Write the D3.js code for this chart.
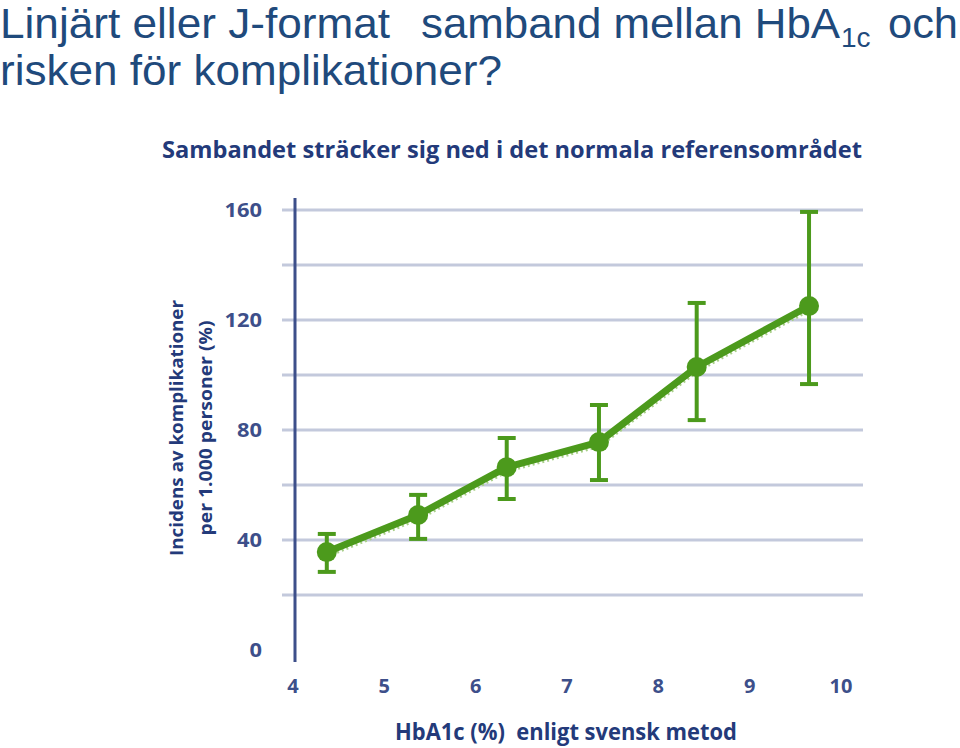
<!DOCTYPE html>
<html><head><meta charset="utf-8">
<script src="https://cdn.jsdelivr.net/npm/d3@7"></script>
<style>body{margin:0;background:#fff}svg{display:block}text{white-space:pre}</style>
</head><body>
<script>
const hba1c = [4.37, 5.37, 6.34, 7.35, 8.42, 9.65];
const incidence = [35.6, 49.1, 66.5, 75.6, 102.9, 125.1];
const errLow = [28.4, 40.4, 54.9, 61.8, 83.6, 96.7];
const errHigh = [42.2, 56.4, 77.1, 89.1, 126.2, 159.3];
const xTicks = [4, 5, 6, 7, 8, 9, 10];
const yTickLabels = [0, 40, 80, 120, 160];
const yGrid = [20, 40, 60, 80, 100, 120, 140, 160];

const W = 960, H = 748;
const svg = d3.select("body").append("svg").attr("width", W).attr("height", H);

const titleColor = "#1f4a7c";
const tf = "Liberation Sans, Arial, sans-serif";
svg.append("text").attr("x", 0).attr("y", 38)
  .attr("font-family", tf).attr("font-size", 42).attr("fill", titleColor)
  .attr("textLength", 390).attr("lengthAdjust", "spacingAndGlyphs")
  .text("Linjärt eller J-format");
svg.append("text").attr("x", 421).attr("y", 38)
  .attr("font-family", tf).attr("font-size", 42).attr("fill", titleColor)
  .attr("textLength", 419).attr("lengthAdjust", "spacingAndGlyphs")
  .text("samband mellan HbA");
svg.append("text").attr("x", 841).attr("y", 47)
  .attr("font-family", tf).attr("font-size", 28).attr("fill", titleColor)
  .text("1c");
svg.append("text").attr("x", 958).attr("y", 38).attr("text-anchor", "end")
  .attr("font-family", tf).attr("font-size", 42).attr("fill", titleColor)
  .attr("textLength", 70).attr("lengthAdjust", "spacingAndGlyphs")
  .text("och");
svg.append("text").attr("x", 0).attr("y", 85)
  .attr("font-family", tf).attr("font-size", 42).attr("fill", titleColor)
  .attr("textLength", 502).attr("lengthAdjust", "spacingAndGlyphs")
  .text("risken för komplikationer?");

const axisColor = "#3d4f8a";
const labelColor = "#233a7a";

svg.append("text").attr("x", 512).attr("y", 158).attr("text-anchor", "middle")
  .attr("font-family", "Open Sans, sans-serif").attr("font-weight", "bold").attr("font-size", 24)
  .attr("fill", labelColor).attr("textLength", 700).attr("lengthAdjust", "spacingAndGlyphs")
  .text("Sambandet sträcker sig ned i det normala referensområdet");

const x = d3.scaleLinear().domain([4, 10]).range([293, 841]);
const y = d3.scaleLinear().domain([0, 160]).range([650, 210]);

// gridlines
svg.append("g").selectAll("line").data(yGrid).join("line")
  .attr("x1", 282).attr("x2", 863).attr("y1", d => y(d)).attr("y2", d => y(d))
  .attr("stroke", "#c3c9dc").attr("stroke-width", 3);

// y axis line
svg.append("line").attr("x1", 295).attr("x2", 295).attr("y1", 198).attr("y2", 662)
  .attr("stroke", axisColor).attr("stroke-width", 3);

// y tick labels
svg.append("g").selectAll("text").data(yTickLabels).join("text")
  .attr("x", 262).attr("y", d => y(d)).attr("dy", "0.35em").attr("text-anchor", "end")
  .attr("font-family", "Open Sans, sans-serif").attr("font-weight", "bold").attr("font-size", 20)
  .attr("fill", axisColor).attr("textLength", d => String(d).length * 12.5).attr("lengthAdjust", "spacingAndGlyphs")
  .text(d => d);

// x tick labels
svg.append("g").selectAll("text").data(xTicks).join("text")
  .attr("x", d => x(d)).attr("y", 693).attr("text-anchor", "middle")
  .attr("font-family", "Open Sans, sans-serif").attr("font-weight", "bold").attr("font-size", 20)
  .attr("fill", axisColor).text(d => d);

// x axis title
svg.append("text").attr("x", 566).attr("y", 740).attr("text-anchor", "middle")
  .attr("font-family", "Open Sans, sans-serif").attr("font-weight", "bold").attr("font-size", 23)
  .attr("fill", labelColor).attr("textLength", 342).attr("lengthAdjust", "spacingAndGlyphs")
  .text("HbA1c (%)  enligt svensk metod");

// y axis title
const yt = svg.append("g").attr("transform", "translate(183,428) rotate(-90)");
yt.append("text").attr("x", 0).attr("y", 0).attr("text-anchor", "middle")
  .attr("font-family", "Open Sans, sans-serif").attr("font-weight", "bold").attr("font-size", 18)
  .attr("fill", labelColor).attr("textLength", 256).attr("lengthAdjust", "spacingAndGlyphs")
  .text("Incidens av komplikationer");
yt.append("text").attr("x", 0).attr("y", 29).attr("text-anchor", "middle")
  .attr("font-family", "Open Sans, sans-serif").attr("font-weight", "bold").attr("font-size", 18)
  .attr("fill", labelColor).attr("textLength", 215).attr("lengthAdjust", "spacingAndGlyphs")
  .text("per 1.000 personer (%)");

const data = hba1c.map((h, i) => ({h, v: incidence[i], lo: errLow[i], hi: errHigh[i]}));
const green = "#4c9a1c";
const lightGreen = "#a9cf8a";

// shadow line
const line = d3.line().x(d => x(d.h)).y(d => y(d.v));
svg.append("path").datum(data).attr("d", line).attr("transform", "translate(1,4)")
  .attr("fill", "none").attr("stroke", lightGreen).attr("stroke-width", 3).attr("stroke-dasharray", "2,3");

// error bars
const eb = svg.append("g");
eb.selectAll("line.v").data(data).join("line").attr("class", "v")
  .attr("x1", d => x(d.h)).attr("x2", d => x(d.h)).attr("y1", d => y(d.lo)).attr("y2", d => y(d.hi))
  .attr("stroke", green).attr("stroke-width", 4);
eb.selectAll("line.t").data(data).join("line").attr("class", "t")
  .attr("x1", d => x(d.h) - 9).attr("x2", d => x(d.h) + 9).attr("y1", d => y(d.hi)).attr("y2", d => y(d.hi))
  .attr("stroke", green).attr("stroke-width", 4);
eb.selectAll("line.b").data(data).join("line").attr("class", "b")
  .attr("x1", d => x(d.h) - 9).attr("x2", d => x(d.h) + 9).attr("y1", d => y(d.lo)).attr("y2", d => y(d.lo))
  .attr("stroke", green).attr("stroke-width", 4);

svg.append("path").datum(data).attr("d", line)
  .attr("fill", "none").attr("stroke", green).attr("stroke-width", 7).attr("stroke-linejoin", "round");

svg.append("g").selectAll("circle").data(data).join("circle")
  .attr("cx", d => x(d.h)).attr("cy", d => y(d.v)).attr("r", 10).attr("fill", green);
</script>
</body></html>
